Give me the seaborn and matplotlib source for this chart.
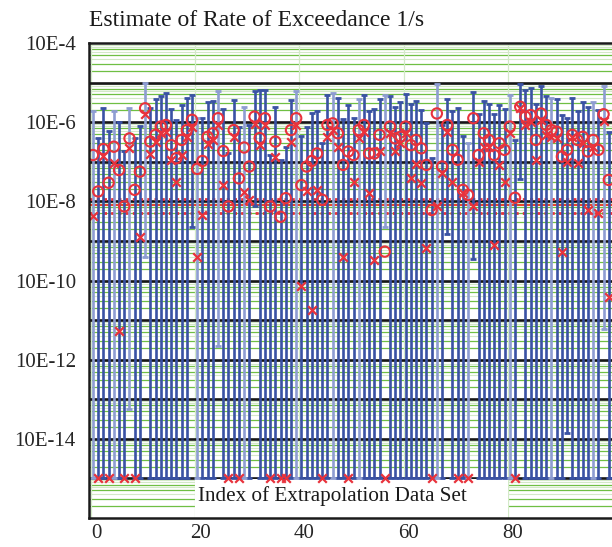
import numpy as np
import pandas as pd
import matplotlib
matplotlib.use("Agg")
import matplotlib.pyplot as plt
import matplotlib.transforms as mtransforms
from matplotlib.patches import Rectangle
import seaborn as sns

# ---------------- data (log10 of rate of exceedance, 1/s) ----------------
data_set_index = list(range(100))

upper_log10 = [
    -5.73, -6.41, -5.65, -6.22, -5.73, -6.00, -6.74, -5.63, -6.41, -6.09,
    -5.00, -5.63, -5.41, -5.33, -5.27, -5.67, -5.94, -5.57, -5.38, -5.31,
    -5.90, -5.90, -5.50, -5.46, -5.20, -5.67, -6.78, -5.44, -6.11, -5.61,
    -6.07, -5.20, -5.19, -5.19, -6.83, -5.61, -6.95, -6.62, -5.44, -5.20,
    -6.35, -6.11, -5.78, -5.73, -6.53, -5.31, -5.26, -5.38, -5.93, -5.57,
    -5.90, -5.42, -5.31, -5.73, -5.67, -5.41, -5.31, -5.33, -5.61, -5.48,
    -5.29, -5.55, -5.46, -5.69, -6.03, -6.90, -5.04, -6.07, -5.41, -5.72,
    -5.65, -6.35, -6.52, -5.24, -5.80, -5.46, -5.55, -5.80, -5.57, -5.67,
    -5.31, -6.45, -5.04, -5.19, -5.13, -5.55, -5.08, -5.33, -5.38, -5.41,
    -5.82, -5.89, -5.38, -5.72, -5.50, -5.61, -5.50, -5.69, -5.08, -6.26,
]

lower_log10 = [
    -15, -15, -15, -15, -15, -15, -15, -13.24, -15, -15,
    -9.40, -15, -15, -15, -15, -15, -15, -15, -15, -8.64,
    -15, -15, -15, -15, -11.65, -15, -15, -15, -15, -15,
    -15, -8.13, -15, -15, -15, -15, -15, -15, -15, -15,
    -15, -15, -15, -15, -15, -15, -15, -15, -15, -15,
    -15, -15, -15, -15, -15, -15, -8.64, -15, -15, -15,
    -15, -15, -15, -15, -15, -15, -15, -15, -8.83, -15,
    -15, -15, -15, -9.46, -15, -15, -15, -15, -15, -15,
    -15, -15, -7.43, -15, -15, -15, -15, -15, -15, -15,
    -15, -13.85, -15, -15, -15, -15, -15, -15, -11.22, -15,
]

circle_log10 = [
    -6.83, -7.75, -6.68, -7.53, -6.62, -7.21, -8.13, -6.41, -7.71, -7.25,
    -5.65, -6.49, -6.32, -6.11, -6.07, -6.58, -6.91, -6.45, -6.20, -5.94,
    -7.18, -6.98, -6.37, -6.28, -5.90, -6.73, -8.13, -6.20, -7.42, -6.64,
    -7.12, -5.86, -6.40, -5.90, -8.13, -6.49, -8.39, -7.92, -6.20, -5.90,
    -7.59, -7.12, -6.98, -6.79, -7.96, -6.07, -6.03, -6.28, -7.08, -6.74,
    -6.83, -6.20, -6.07, -6.79, -6.79, -6.32, -9.27, -6.11, -6.41, -6.37,
    -6.11, -6.58, -6.45, -6.66, -7.08, -8.22, -5.78, -7.12, -6.07, -6.70,
    -6.95, -7.71, -7.84, -5.90, -6.83, -6.28, -6.45, -6.83, -6.53, -6.70,
    -6.11, -7.91, -5.61, -5.86, -5.82, -6.45, -5.78, -6.07, -6.20, -6.24,
    -6.87, -6.70, -6.32, -6.45, -6.37, -6.74, -6.45, -6.70, -5.80, -7.46,
]

cross_log10 = [
    -8.36, -15, -6.85, -15, -7.04, -11.27, -15, -6.64, -15, -8.91,
    -5.80, -6.81, -6.50, -6.27, -6.25, -6.95, -7.50, -6.83, -6.37, -6.12,
    -9.40, -8.34, -6.55, -6.45, -6.07, -7.59, -15, -6.37, -15, -7.77,
    -7.96, -6.05, -6.58, -6.07, -15, -6.87, -15, -15, -6.49, -6.07,
    -10.15, -7.75, -10.74, -7.71, -15, -6.37, -6.20, -6.62, -9.40, -15,
    -7.50, -6.41, -6.25, -7.80, -9.48, -6.74, -15, -6.27, -6.74, -6.53,
    -6.27, -7.42, -7.06, -7.54, -9.18, -15, -8.13, -7.28, -6.24, -7.50,
    -15, -7.80, -15, -8.13, -7.01, -6.62, -6.63, -9.10, -7.08, -7.50,
    -6.27, -15, -5.65, -6.07, -5.99, -6.95, -5.94, -6.32, -6.37, -6.40,
    -9.27, -7.00, -6.37, -7.04, -6.53, -8.22, -6.63, -8.30, -5.97, -10.41,
]

light_sets = [0, 4, 7, 10, 20, 24, 29, 39, 46, 51, 56, 66, 72, 80, 88, 96, 98]

reference_line_log10 = -8.10
reference_band_log10 = [-7.93, -8.29]

x_ticks = [0, 20, 40, 60, 80]
y_tick_exponents = [-4, -6, -8, -10, -12, -14]
y_tick_labels = ["10E-4", "10E-6", "10E-8", "10E-10", "10E-12", "10E-14"]

title_text = "Estimate of Rate of Exceedance 1/s"
xlabel_text = "Index of Extrapolation Data Set"

# ---------------- build table ----------------
df = pd.DataFrame({
    "index": data_set_index,
    "upper": 10.0 ** np.array(upper_log10),
    "lower": 10.0 ** np.array(lower_log10),
    "circle": 10.0 ** np.array(circle_log10),
    "cross": 10.0 ** np.array(cross_log10),
})
df["light"] = df["index"].isin(light_sets)

# ---------------- figure ----------------
sns.set_style("white")
plt.rcParams["font.family"] = ["Liberation Serif", "DejaVu Serif"]

W, H = 612, 547
fig = plt.figure(figsize=(W / 100, H / 100), dpi=100)
x_left, x_right = -0.77, 100.5
ax = fig.add_axes([89 / W, 1 - 518 / H, (616.6 - 89) / W, 475 / H])
ax.set_yscale("log")
ax.set_xlim(x_left, x_right)
ax.set_ylim(1e-16, 1e-4)

BLUE = "#3a52a4"
LIGHT_BLUE = "#8e9dd2"
RED = "#e8323c"
GREEN = "#6fbf43"
PALE_GREEN = "#d3e9c8"

# grid lines
for e in range(-16, -4):
    for m in range(2, 10):
        bright = m in (2, 3, 5, 7)
        ax.axhline(m * 10.0 ** e, color=GREEN if bright else PALE_GREEN,
                   lw=0.9 if bright else 0.8, zorder=0.5)
for e in range(-15, -4):
    ax.axhline(10.0 ** e, color="#161616", lw=1.9, zorder=0.8)
for xt in x_ticks:
    ax.axvline(xt - 0.4, color=PALE_GREEN, lw=0.9, zorder=0.6)

# white label box under the bars
ax.add_patch(Rectangle((19.5, 1.0e-16), 60.2, 8.6e-16, facecolor="white",
                       edgecolor="none", zorder=1.0))

# reference lines
ax.axhline(10.0 ** reference_line_log10, color="#e8402c", lw=1.4, zorder=2.5)
for v in reference_band_log10:
    ax.axhline(10.0 ** v, color=RED, lw=2.0, ls=(0, (1.1, 1.5)), zorder=2.5)

# error bars
for is_light, grp in df.groupby("light"):
    ax.errorbar(grp["index"], grp["lower"],
                yerr=[np.zeros(len(grp)), grp["upper"] - grp["lower"]],
                fmt="none", ecolor=LIGHT_BLUE if is_light else BLUE,
                elinewidth=1.9, capsize=2.2, capthick=2.0, zorder=3)

# markers
sns.scatterplot(data=df, x="index", y="circle", marker="o", s=55,
                facecolor="none", edgecolor=RED, linewidth=1.5, ax=ax,
                zorder=5, legend=False)
sns.scatterplot(data=df, x="index", y="cross", marker="x", s=38,
                color=RED, linewidth=1.6, ax=ax, zorder=5, legend=False)

# ticks
ax.set_xticks(x_ticks)
ax.set_xticklabels([str(t) for t in x_ticks], fontsize=15)
ax.set_yticks([10.0 ** e for e in y_tick_exponents])
ax.set_yticklabels(y_tick_labels, fontsize=15)
ax.yaxis.set_minor_locator(matplotlib.ticker.NullLocator())
ax.tick_params(axis="both", length=0)
ax.tick_params(axis="y", pad=9.5)
ax.tick_params(axis="x", pad=4)
shift = mtransforms.ScaledTranslation(3 / 100, 0, fig.dpi_scale_trans)
for lab in ax.get_xticklabels():
    lab.set_transform(lab.get_transform() + shift)
ax.set_xlabel("")
ax.set_ylabel("")

for side in ["left", "top", "bottom", "right"]:
    ax.spines[side].set_color("#1a1a1a")
    ax.spines[side].set_linewidth(1.8)
    ax.spines[side].set_zorder(6)

ax.text(45.9, 3.6e-16, xlabel_text, ha="center", va="center", fontsize=15.2,
        color="#1a1a1a", zorder=6)
fig.text(89 / W, 1 - 26 / H, title_text, ha="left", va="baseline",
         fontsize=17, color="#1a1a1a")

fig.savefig("out.png", dpi=100)
